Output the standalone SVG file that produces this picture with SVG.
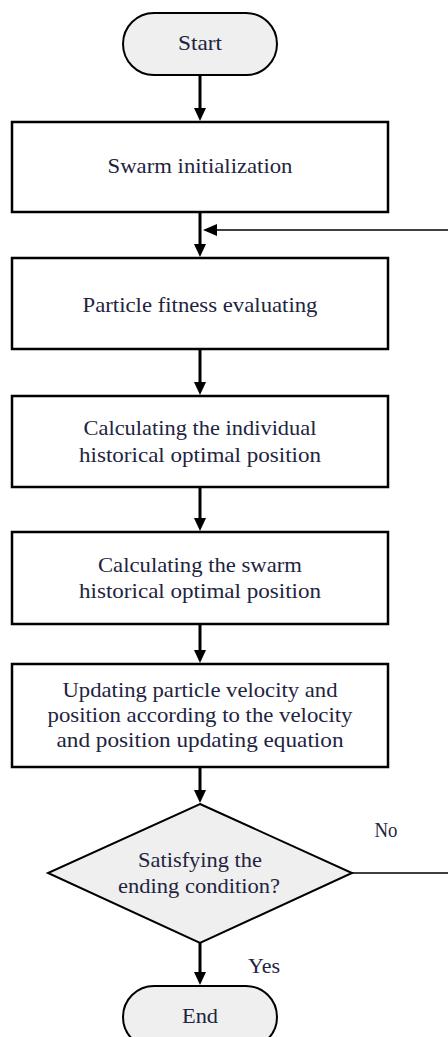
<svg xmlns="http://www.w3.org/2000/svg" width="448" height="1037" viewBox="0 0 448 1037">
<style>
text{font-family:"Liberation Serif","Times New Roman",serif;font-size:21px;fill:#1e2440;text-anchor:middle}
.box{fill:#fff;stroke:#000;stroke-width:2.5}
.term{fill:#efefef;stroke:#000;stroke-width:2}
.dec{fill:#efefef;stroke:#000;stroke-width:2}
.flow{stroke:#000;stroke-width:3;fill:none}
.thin{stroke:#000;stroke-width:1.5;fill:none}
</style>
<defs>
<marker id="ah" markerWidth="12" markerHeight="13" refX="6" refY="5" markerUnits="userSpaceOnUse" viewBox="0 0 12 13">
<path d="M0,0 L12,0 L6,13 Z" fill="#000"/>
</marker>
<marker id="ahl" markerWidth="14" markerHeight="12" refX="7" refY="6" markerUnits="userSpaceOnUse" viewBox="0 0 14 12">
<path d="M14,0 L0,6 L14,12 Z" fill="#000"/>
</marker>
</defs>
<g id="start">
<rect class="term" x="123" y="13" width="154" height="62" rx="31" ry="31"/>
<text x="200" y="50" textLength="44" lengthAdjust="spacingAndGlyphs">Start</text>
</g>
<g id="init">
<rect class="box" x="12" y="122" width="376" height="90"/>
<text x="200" y="173" textLength="185" lengthAdjust="spacingAndGlyphs">Swarm initialization</text>
</g>
<g id="fitness">
<rect class="box" x="12" y="258" width="376" height="91"/>
<text x="200" y="312" textLength="235" lengthAdjust="spacingAndGlyphs">Particle fitness evaluating</text>
</g>
<g id="individual">
<rect class="box" x="12" y="396" width="376" height="91"/>
<text x="200" y="435" textLength="233" lengthAdjust="spacingAndGlyphs">Calculating the individual</text>
<text x="200" y="462" textLength="242" lengthAdjust="spacingAndGlyphs">historical optimal position</text>
</g>
<g id="swarm">
<rect class="box" x="12" y="532" width="376" height="92"/>
<text x="200" y="572" textLength="204" lengthAdjust="spacingAndGlyphs">Calculating the swarm</text>
<text x="200" y="598" textLength="242" lengthAdjust="spacingAndGlyphs">historical optimal position</text>
</g>
<g id="update">
<rect class="box" x="12" y="664" width="376" height="103"/>
<text x="200" y="697" textLength="275" lengthAdjust="spacingAndGlyphs">Updating particle velocity and</text>
<text x="200" y="722" textLength="305" lengthAdjust="spacingAndGlyphs">position according to the velocity</text>
<text x="200" y="747" textLength="287" lengthAdjust="spacingAndGlyphs">and position updating equation</text>
</g>
<g id="decision">
<polygon class="dec" points="200,804 352,873 200,943 48,873"/>
<text x="200" y="867" textLength="124" lengthAdjust="spacingAndGlyphs">Satisfying the</text>
<text x="199" y="893" textLength="162" lengthAdjust="spacingAndGlyphs">ending condition?</text>
</g>
<g id="end">
<rect class="term" x="123" y="986" width="154" height="62" rx="31" ry="31"/>
<text x="200" y="1023" textLength="36" lengthAdjust="spacingAndGlyphs">End</text>
</g>
<g id="connectors">
<line class="flow" x1="200" y1="75" x2="200" y2="113" marker-end="url(#ah)"/>
<line class="flow" x1="200" y1="212" x2="200" y2="249" marker-end="url(#ah)"/>
<line class="flow" x1="200" y1="349" x2="200" y2="387" marker-end="url(#ah)"/>
<line class="flow" x1="200" y1="487" x2="200" y2="523" marker-end="url(#ah)"/>
<line class="flow" x1="200" y1="624" x2="200" y2="655" marker-end="url(#ah)"/>
<line class="flow" x1="200" y1="767" x2="200" y2="795" marker-end="url(#ah)"/>
<line class="flow" x1="200" y1="943" x2="200" y2="977" marker-end="url(#ah)"/>
<line class="thin" x1="448" y1="230" x2="210" y2="230" marker-end="url(#ahl)"/>
<line class="thin" x1="352" y1="873" x2="448" y2="873"/>
<text x="386" y="837" textLength="23" lengthAdjust="spacingAndGlyphs">No</text>
<text x="264" y="973" textLength="32" lengthAdjust="spacingAndGlyphs">Yes</text>
</g>
</svg>
